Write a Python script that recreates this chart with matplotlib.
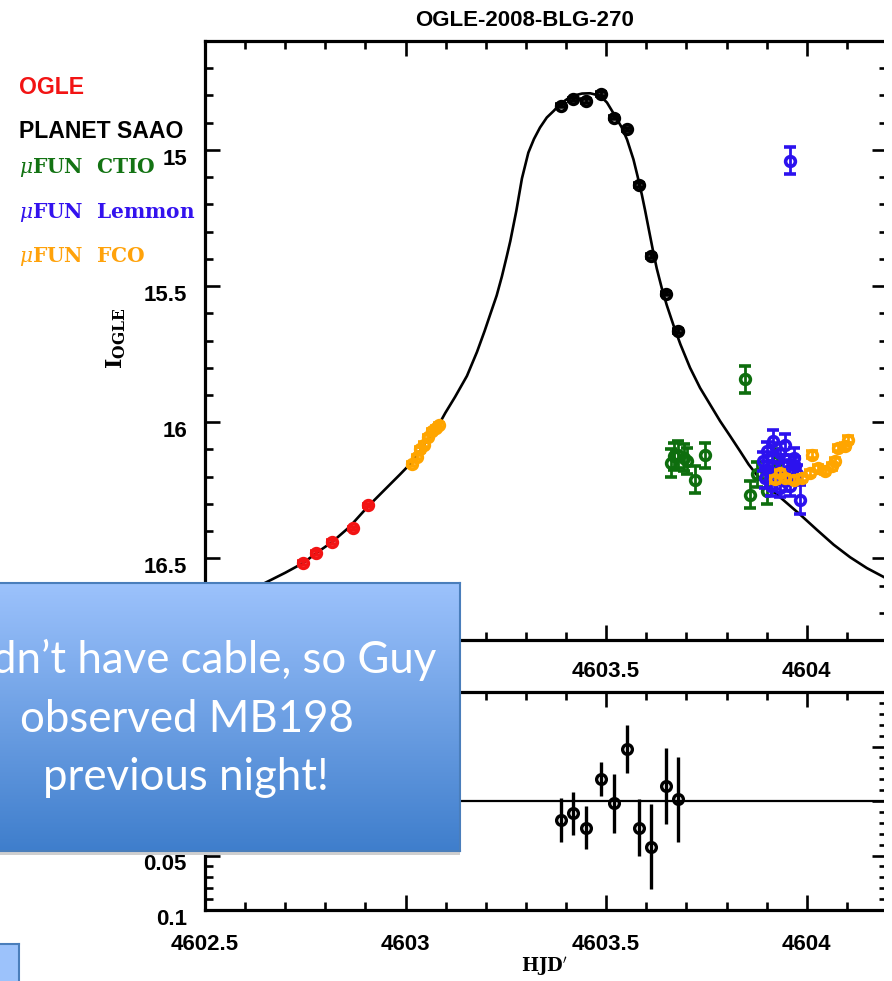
import numpy as np
import matplotlib
matplotlib.use('Agg')
import matplotlib.pyplot as plt
from matplotlib.ticker import MultipleLocator, FixedLocator, FixedFormatter
from matplotlib.transforms import ScaledTranslation
from matplotlib.patches import Rectangle

# ---- data ----
model_hjd = [4602.50, 4602.58, 4602.65, 4602.70, 4602.745, 4602.78, 4602.817, 4602.86,
             4602.906, 4602.95, 4602.986, 4603.017, 4603.050, 4603.075, 4603.099, 4603.123,
             4603.153, 4603.178, 4603.197, 4603.211, 4603.227, 4603.240, 4603.252, 4603.261,
             4603.276, 4603.290, 4603.306, 4603.320, 4603.335, 4603.352, 4603.369, 4603.385,
             4603.402, 4603.418, 4603.440, 4603.460, 4603.485, 4603.502, 4603.518, 4603.539,
             4603.552, 4603.568, 4603.578, 4603.589, 4603.597, 4603.606, 4603.616, 4603.626,
             4603.639, 4603.651, 4603.668, 4603.685, 4603.709, 4603.734, 4603.759, 4603.784,
             4603.809, 4603.834, 4603.855, 4603.876, 4603.900, 4603.926, 4603.955, 4603.984,
             4604.025, 4604.067, 4604.108, 4604.150, 4604.200]
model_mag = [16.71, 16.65, 16.59, 16.553, 16.517, 16.478, 16.44, 16.385,
             16.31, 16.245, 16.192, 16.145, 16.075, 16.030, 15.966, 15.908,
             15.830, 15.742, 15.665, 15.604, 15.535, 15.465, 15.392, 15.335,
             15.224, 15.105, 15.010, 14.960, 14.918, 14.881, 14.857, 14.832,
             14.814, 14.801, 14.793, 14.792, 14.801, 14.826, 14.865, 14.918,
             14.962, 15.035, 15.095, 15.165, 15.222, 15.290, 15.365, 15.435,
             15.510, 15.570, 15.645, 15.714, 15.800, 15.874, 15.935, 15.996,
             16.051, 16.107, 16.155, 16.195, 16.232, 16.266, 16.303, 16.340,
             16.395, 16.450, 16.496, 16.536, 16.575]

ogle_hjd = [4602.745, 4602.776, 4602.817, 4602.869, 4602.906]
ogle_mag = [16.517, 16.480, 16.440, 16.390, 16.306]

saao_hjd = [4603.387, 4603.417, 4603.449, 4603.486, 4603.520,
            4603.553, 4603.582, 4603.612, 4603.648, 4603.678]
saao_mag = [14.838, 14.814, 14.820, 14.795, 14.881,
            14.924, 15.129, 15.390, 15.528, 15.665]
saao_res = [0.0174, 0.0113, 0.0244, -0.0204, 0.0021,
            -0.0479, 0.0244, 0.0419, -0.0138, -0.0018]
saao_res_err = [0.020, 0.020, 0.020, 0.0155, 0.027,
                0.022, 0.026, 0.039, 0.035, 0.039]

ctio_hjd = [4603.661, 4603.670, 4603.680, 4603.693, 4603.701, 4603.722,
            4603.747, 4603.847, 4603.859, 4603.876, 4603.901, 4603.926]
ctio_mag = [16.150, 16.125, 16.119, 16.131, 16.141, 16.211,
            16.121, 15.843, 16.266, 16.192, 16.254, 16.143]
ctio_err = [0.050, 0.050, 0.050, 0.050, 0.048, 0.049,
            0.046, 0.049, 0.049, 0.045, 0.045, 0.045]

lemmon_hjd = [4603.957, 4603.917, 4603.946, 4603.901, 4603.934, 4603.967,
              4603.892, 4603.913, 4603.942, 4603.971, 4603.905, 4603.930,
              4603.955, 4603.897, 4603.922, 4603.946, 4603.975, 4603.910,
              4603.934, 4603.958, 4603.983]
lemmon_mag = [15.040, 16.070, 16.082, 16.107, 16.113, 16.131,
              16.143, 16.156, 16.156, 16.162, 16.180, 16.186,
              16.174, 16.205, 16.211, 16.217, 16.192, 16.235,
              16.241, 16.235, 16.284]
lemmon_err = [0.049, 0.040, 0.040, 0.035, 0.035, 0.035,
              0.035, 0.035, 0.035, 0.035, 0.035, 0.035,
              0.035, 0.035, 0.035, 0.035, 0.035, 0.035,
              0.035, 0.035, 0.052]

fco_hjd = [4603.017, 4603.028, 4603.036, 4603.046, 4603.057, 4603.067, 4603.076, 4603.084,
           4603.921, 4603.934, 4603.946, 4603.967, 4603.988, 4604.007, 4604.013, 4604.029,
           4604.045, 4604.063, 4604.071, 4604.079, 4604.096, 4604.102]
fco_mag = [16.153, 16.129, 16.100, 16.082, 16.055, 16.033, 16.021, 16.011,
           16.210, 16.187, 16.205, 16.211, 16.205, 16.186, 16.119, 16.168,
           16.180, 16.162, 16.143, 16.094, 16.088, 16.064]
fco_err = [0.008] * 8 + [0.012] * 14

xticks = [4602.5, 4603, 4603.5, 4604]
xtick_labels = ['4602.5', '4603', '4603.5', '4604']
# the first two labels of the upper panel sit under the slide box
xtick_labels_top = ['', '', '4603.5', '4604']
magticks = [15, 15.5, 16, 16.5]
mag_labels = ['15', '15.5', '16', '16.5']
resticks = [-0.1, -0.05, 0, 0.05, 0.1]
res_labels = ['', '', '', '0.05', '0.1']   # upper ones hidden by the box

legend_names = ['OGLE', 'PLANET SAAO', r'$\mu$FUN  CTIO', r'$\mu$FUN  Lemmon', r'$\mu$FUN  FCO']
legend_colors = ['#F21414', '#000000', '#137313', '#3312EE', '#FFA20A']

c_ogle, c_saao, c_ctio, c_lemmon, c_fco = '#F21414', '#000000', '#0E6E0E', '#2C12EE', '#FFA500'

W, H = 892, 981
plt.rcParams['mathtext.fontset'] = 'dejavuserif'
fig = plt.figure(figsize=(W / 100, H / 100), dpi=100)


def fx(x):
    return x / W


def fy(y):
    return 1 - y / H


tickfont = dict(family='Liberation Sans', weight='bold', size=16)


def style(ax, labels):
    for s in ['left', 'top', 'bottom']:
        ax.spines[s].set_linewidth(2.3)
    ax.spines['right'].set_visible(False)
    ax.tick_params(which='both', direction='in', top=True, right=True, width=1.9)
    ax.tick_params(which='major', length=11)
    ax.tick_params(which='minor', length=6)
    ax.xaxis.set_major_locator(FixedLocator(xticks))
    ax.xaxis.set_minor_locator(MultipleLocator(0.1))
    ax.xaxis.set_major_formatter(FixedFormatter(labels))
    ax.set_xlim(4602.5, 4604.2)
    for lab in ax.get_xticklabels() + ax.get_yticklabels():
        lab.set_fontproperties(matplotlib.font_manager.FontProperties(**tickfont))


# ---- main light-curve panel ----
ax = fig.add_axes([fx(205), fy(640), fx(887) - fx(205), fy(41) - fy(640)])
ax.plot(model_hjd, model_mag, color='black', lw=1.9, zorder=1, solid_joinstyle='round')
mk = dict(fmt='o', ms=7, mfc='none', mew=2.6, elinewidth=2, capsize=4, capthick=2)
ax.errorbar(ogle_hjd, ogle_mag, yerr=0.006, color=c_ogle, zorder=2, **mk)
ax.errorbar(saao_hjd, saao_mag, yerr=0.006, color=c_saao, zorder=2, **mk)
ax.errorbar(ctio_hjd, ctio_mag, yerr=ctio_err, color=c_ctio, zorder=3, **mk)
ax.errorbar(lemmon_hjd, lemmon_mag, yerr=lemmon_err, color=c_lemmon, zorder=4, **mk)
ax.errorbar(fco_hjd, fco_mag, yerr=fco_err, color=c_fco, zorder=5, **mk)
ax.set_ylim(16.8, 14.6)
ax.yaxis.set_major_locator(FixedLocator(magticks))
ax.yaxis.set_major_formatter(FixedFormatter(mag_labels))
ax.yaxis.set_minor_locator(MultipleLocator(0.1))
ax.tick_params(axis='y', pad=13)
ax.tick_params(axis='x', pad=15)
style(ax, xtick_labels_top)

# ---- residual panel ----
axr = fig.add_axes([fx(205), fy(910), fx(887) - fx(205), fy(692) - fy(910)])
axr.axhline(0, color='black', lw=1.6)
axr.errorbar(saao_hjd, saao_res, yerr=saao_res_err, fmt='o', ms=7, mfc='none',
             mew=2.4, color='black', elinewidth=2.4, capsize=0)
axr.set_ylim(0.1, -0.1)
axr.yaxis.set_major_locator(FixedLocator(resticks))
axr.yaxis.set_major_formatter(FixedFormatter(res_labels))
axr.yaxis.set_minor_locator(MultipleLocator(0.01))
axr.tick_params(axis='y', pad=13)
axr.tick_params(axis='x', pad=17)
style(axr, xtick_labels)

# shift y tick labels a little down like the original
for a in (ax, axr):
    for lab in a.get_yticklabels():
        lab.set_transform(lab.get_transform() + ScaledTranslation(0, -5 / 72, fig.dpi_scale_trans))

# ---- texts ----
fig.text(fx(525), fy(20), 'OGLE-2008-BLG-270', ha='center', va='center', **tickfont)
fig.text(fx(116), fy(338), r'$\mathbf{I}_{\mathbf{OGLE}}$', rotation=90, ha='center',
         va='center', fontsize=16)
fig.text(fx(544), fy(966), r"HJD$'$", ha='center', va='center', family='DejaVu Serif',
         weight='bold', fontsize=13)

legend_y = [88, 132, 168, 212, 257]
for name, col, yy in zip(legend_names, legend_colors, legend_y):
    if name.startswith('$'):
        fig.text(fx(19), fy(yy), name, color=col, ha='left', va='center',
                 family='DejaVu Serif', weight='bold', fontsize=14.5)
    else:
        fig.text(fx(19), fy(yy), name, color=col, ha='left', va='center',
                 family='Liberation Sans', weight='bold', fontsize=16.6)

# ---- overlaid slide callout ----
box = fig.add_axes([0, fy(851), fx(460), fy(583) - fy(851)])
box.set_zorder(5)
top_c = np.array([0.612, 0.761, 0.988])
bot_c = np.array([0.247, 0.494, 0.800])
t = np.linspace(0, 1, 200)[:, None, None]
grad = top_c * (1 - t) + bot_c * t
box.imshow(grad * np.ones((1, 4, 1)), aspect='auto', extent=[0, 1, 0, 1])
box.set_xticks([])
box.set_yticks([])
box.spines['left'].set_visible(False)
for s in ['top', 'bottom', 'right']:
    box.spines[s].set_color('#4A7EBB')
    box.spines[s].set_linewidth(1.5)
fig.patches.append(Rectangle((0, fy(855)), fx(460), fy(851) - fy(855), transform=fig.transFigure,
                             facecolor='#CFCFCF', edgecolor='none', zorder=4))

callout = dict(color='white', family='Lato', fontsize=31.5, va='baseline', zorder=6)
fig.text(fx(436), fy(673), 'didn\u2019t have cable, so Guy', ha='right', **callout)
fig.text(fx(187), fy(732), 'observed MB198', ha='center', **callout)
fig.text(fx(186), fy(790), 'previous night!', ha='center', **callout)

small = fig.add_axes([0, 0, fx(19), fy(944)])
small.set_zorder(5)
small.set_facecolor('#9CC2FB')
small.set_xticks([])
small.set_yticks([])
small.spines['left'].set_visible(False)
small.spines['bottom'].set_visible(False)
for s in ['top', 'right']:
    small.spines[s].set_color('#4A7EBB')
    small.spines[s].set_linewidth(1.5)

# picture is cropped just before the right frame
fig.patches.append(Rectangle((fx(884), 0), 1 - fx(884), 1, transform=fig.transFigure,
                             facecolor='white', edgecolor='none', zorder=10))

fig.savefig('out.png', dpi=100)
